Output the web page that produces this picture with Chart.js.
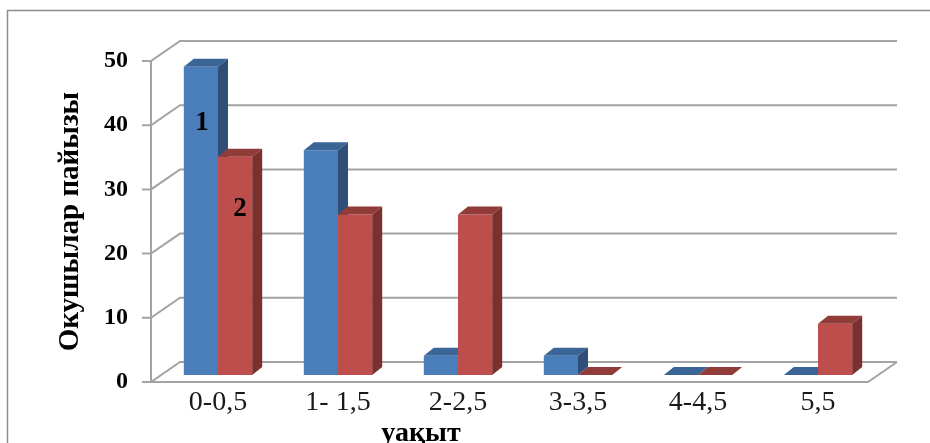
<!DOCTYPE html>
<html>
<head>
<meta charset="utf-8">
<script src="https://cdn.jsdelivr.net/npm/chart.js@4.4.1/dist/chart.umd.min.js"></script>
<style>
  body { margin: 0; background: #fff; }
  canvas { display: block; }
</style>
</head>
<body>
<canvas id="chart" width="930" height="443"></canvas>
<script>
// Chart data
const categories = ['0-0,5', '1- 1,5', '2-2,5', '3-3,5', '4-4,5', '5,5'];
const series1 = [48, 35, 3, 3, 0, 0];
const series2 = [34, 25, 25, 0, 0, 8];
const yTicks = [0, 10, 20, 30, 40, 50];
const yTitle = 'Окушылар пайызы';
const xTitle = 'уақыт';
const seriesNames = ['1', '2'];

// 3D look
const DEPTH_X = 10, DEPTH_Y = -8;      // bar depth
const WALL_X = 29, WALL_Y = -20;       // front axis -> back wall
const BAR_SHIFT_Y = -7;                // bars sit between front and back
const GRID = '#a3a3a3';
const FACES = [
    { top: '#3b6596', side: '#2f4f78' },
    { top: '#923c3a', side: '#7a302e' }
];

function drawFaces(ctx, meta, faces) {
    meta.data.forEach(bar => {
        const p = bar.getProps(['x', 'y', 'base', 'width'], true);
        const l = p.x - p.width / 2, r = p.x + p.width / 2;
        ctx.fillStyle = faces.top;
        ctx.beginPath();
        ctx.moveTo(l, p.y);
        ctx.lineTo(l + DEPTH_X, p.y + DEPTH_Y);
        ctx.lineTo(r + DEPTH_X, p.y + DEPTH_Y);
        ctx.lineTo(r, p.y);
        ctx.closePath();
        ctx.fill();
        ctx.fillStyle = faces.side;
        ctx.beginPath();
        ctx.moveTo(r, p.y);
        ctx.lineTo(r + DEPTH_X, p.y + DEPTH_Y);
        ctx.lineTo(r + DEPTH_X, p.base + DEPTH_Y);
        ctx.lineTo(r, p.base);
        ctx.closePath();
        ctx.fill();
    });
}

const threeD = {
    id: 'threeD',
    beforeDraw(chart) {
        const { ctx, chartArea, scales } = chart;
        const y = scales.y;
        const fx = chartArea.left - 7;
        const floorRight = chartArea.right - 10;

        ctx.save();
        ctx.fillStyle = '#fff';
        ctx.fillRect(0, 0, chart.width, chart.height);

        // outer frame
        ctx.strokeStyle = '#8c8c8c';
        ctx.lineWidth = 1.5;
        ctx.beginPath();
        ctx.moveTo(7.5, chart.height);
        ctx.lineTo(7.5, 10.5);
        ctx.lineTo(chart.width, 10.5);
        ctx.stroke();

        ctx.strokeStyle = GRID;
        ctx.lineWidth = 2;
        ctx.beginPath();
        y.ticks.forEach(t => {
            const py = y.getPixelForValue(t.value);
            ctx.moveTo(fx - 9, py);
            ctx.lineTo(fx, py);
            ctx.lineTo(fx + WALL_X, py + WALL_Y);
            ctx.lineTo(floorRight + WALL_X, py + WALL_Y);
        });
        // front axis
        ctx.moveTo(fx, y.getPixelForValue(y.max));
        ctx.lineTo(fx, y.getPixelForValue(0));
        // floor
        const yb = y.getPixelForValue(0);
        ctx.moveTo(fx, yb);
        ctx.lineTo(floorRight, yb);
        ctx.lineTo(floorRight + WALL_X, yb + WALL_Y);
        ctx.stroke();
        ctx.restore();
    },
    // draw series 1 first, so series 2 sits in front of its side face
    beforeDatasetsDraw(chart) {
        const { ctx, scales } = chart;
        ctx.save();
        ctx.translate(0, BAR_SHIFT_Y);
        [0, 1].forEach(i => {
            const meta = chart.getDatasetMeta(i);
            meta.controller.draw();
            drawFaces(ctx, meta, FACES[i]);
        });
        ctx.restore();

        // series numbers written on the first group
        ctx.save();
        ctx.fillStyle = '#000';
        ctx.font = 'bold 27px "Liberation Serif"';
        ctx.textAlign = 'center';
        ctx.textBaseline = 'middle';
        const b1 = chart.getDatasetMeta(0).data[0];
        const b2 = chart.getDatasetMeta(1).data[0];
        ctx.fillText(seriesNames[0], b1.x + 1, scales.y.getPixelForValue(39.5) + BAR_SHIFT_Y + 2);
        ctx.fillText(seriesNames[1], b2.x + 5, scales.y.getPixelForValue(26.2) + BAR_SHIFT_Y + 2);

        // x axis title
        ctx.font = 'bold 28px "Liberation Serif"';
        ctx.textBaseline = 'alphabetic';
        ctx.fillText(xTitle, 421, 441);
        ctx.restore();
        return false;
    }
};

new Chart(document.getElementById('chart'), {
    type: 'bar',
    data: {
        labels: categories,
        datasets: [{
            label: seriesNames[0],
            data: series1,
            backgroundColor: '#4a7ebb'
        }, {
            label: seriesNames[1],
            data: series2,
            backgroundColor: '#bd4e4b'
        }]
    },
    options: {
        responsive: false,
        animation: false,
        devicePixelRatio: 1,
        layout: {
            padding: { left: 0, right: 52, top: 61, bottom: 0 }
        },
        datasets: {
            bar: { categoryPercentage: 0.57, barPercentage: 1.0, borderWidth: 0 }
        },
        plugins: {
            legend: { display: false },
            tooltip: { enabled: false }
        },
        scales: {
            x: {
                grid: { display: false },
                border: { display: false },
                ticks: {
                    padding: -4,
                    color: '#1a1a1a',
                    font: { family: 'Liberation Serif', size: 28 }
                },
                afterFit(scale) { scale.height = 61; }
            },
            y: {
                min: 0,
                max: 50,
                afterBuildTicks(scale) {
                    scale.ticks = yTicks.map(v => ({ value: v }));
                },
                grid: { display: false },
                border: { display: false },
                ticks: {
                    padding: 22,
                    color: '#000',
                    font: { family: 'Liberation Serif', size: 24, weight: 'bold' }
                },
                title: {
                    display: true,
                    text: yTitle,
                    color: '#000',
                    padding: { top: 53, bottom: 0 },
                    font: { family: 'Liberation Serif', size: 29, weight: 'bold' }
                },
                afterFit(scale) { scale.width = 158; }
            }
        }
    },
    plugins: [threeD]
});
</script>
</body>
</html>
